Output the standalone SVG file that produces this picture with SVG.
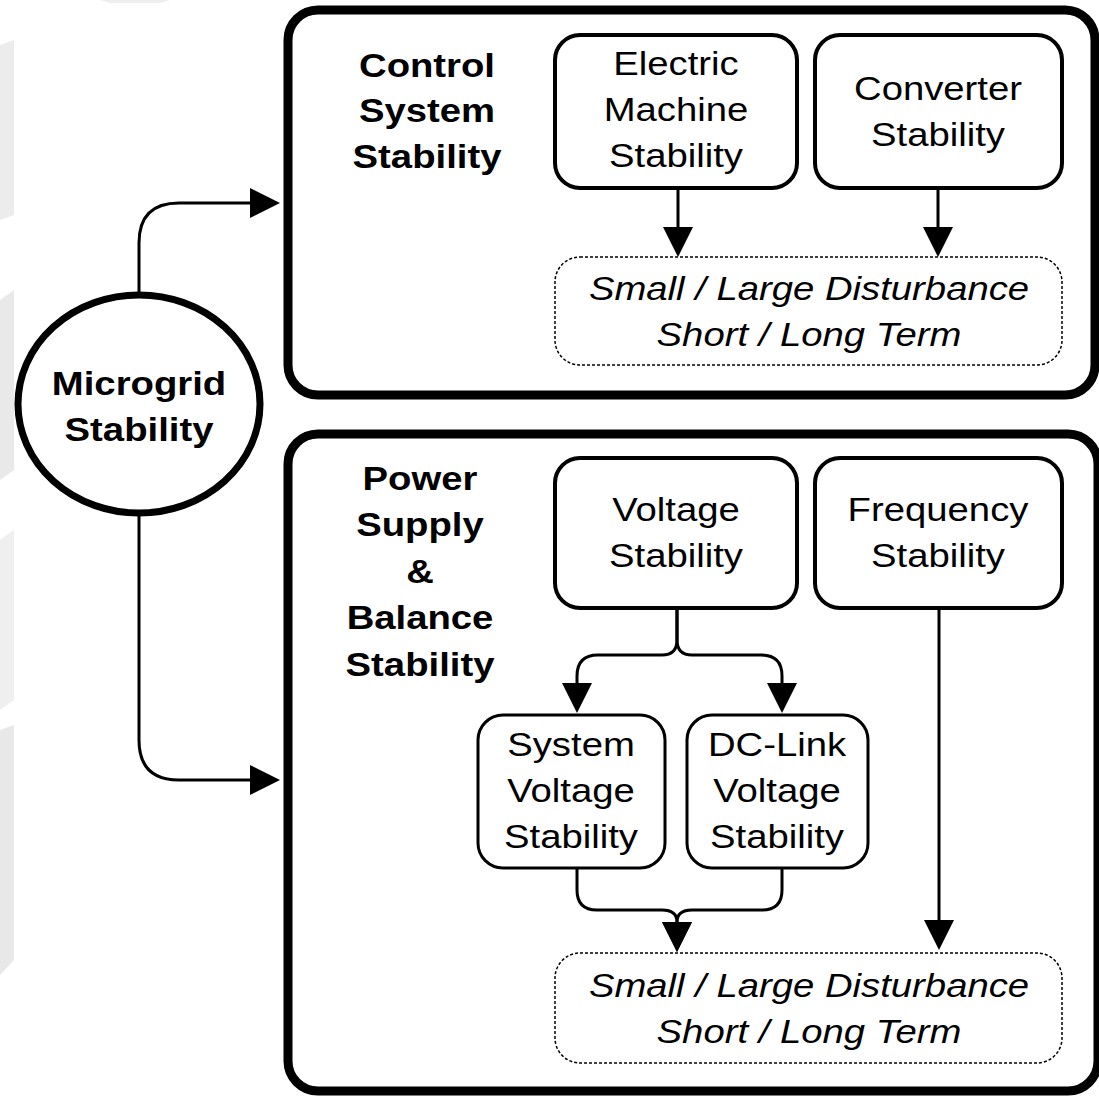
<svg xmlns="http://www.w3.org/2000/svg" width="1099" height="1096" viewBox="0 0 1099 1096">
<style>
.t{font-family:"Liberation Sans",Arial,sans-serif;font-size:33px;fill:#000;text-anchor:middle}
.b{font-weight:bold}
.i{font-style:italic}
.outer{fill:#fff;stroke:#000;stroke-width:9}
.box{fill:#fff;stroke:#000;stroke-width:4}
.sbox{fill:#fff;stroke:#000;stroke-width:3}
.dash{fill:#fff;stroke:#000;stroke-width:1.5;stroke-dasharray:3 2}
.conn path{fill:none;stroke:#000;stroke-width:3;marker-end:url(#ah)}
</style>
<defs>
<marker id="ah" viewBox="0 0 30 30" refX="0" refY="15" markerWidth="30" markerHeight="30" markerUnits="userSpaceOnUse" orient="auto">
<path d="M0,0 L30,15 L0,30 z" fill="#000"/>
</marker>
</defs>
<rect x="0" y="0" width="1099" height="1096" fill="#fff"/>
<g id="bg" fill="#ececec">
<polygon points="0,45 14,40 14,215 0,220"/>
<polygon points="0,300 14,290 14,470 0,480" fill="#e9e9e9"/>
<polygon points="0,540 14,530 14,700 0,710" fill="#efefef"/>
<polygon points="0,730 14,725 14,960 0,975" fill="#e8e8e8"/>
<polygon points="100,0 170,0 160,3 110,3" fill="#eeeeee"/>
</g>
<g id="control-system">
<rect class="outer" x="288" y="10" width="807" height="385" rx="30"/>
<text class="t b" transform="translate(427,0) scale(1.16,1)"><tspan x="0" y="77">Control</tspan><tspan x="0" y="122">System</tspan><tspan x="0" y="168">Stability</tspan></text>
</g>
<g id="power-supply">
<rect class="outer" x="288" y="434" width="810" height="657" rx="30"/>
<text class="t b" transform="translate(420,0) scale(1.16,1)"><tspan x="0" y="490">Power</tspan><tspan x="0" y="536">Supply</tspan><tspan x="0" y="583">&amp;</tspan><tspan x="0" y="629">Balance</tspan><tspan x="0" y="676">Stability</tspan></text>
</g>
<g id="microgrid">
<ellipse cx="139" cy="404" rx="121" ry="109" fill="#fff" stroke="#000" stroke-width="7"/>
<text class="t b" transform="translate(139,0) scale(1.16,1)"><tspan x="0" y="395">Microgrid</tspan><tspan x="0" y="441">Stability</tspan></text>
</g>
<g id="electric-machine">
<rect class="box" x="555" y="35" width="242" height="153" rx="25"/>
<text class="t" transform="translate(676,0) scale(1.16,1)"><tspan x="0" y="75">Electric</tspan><tspan x="0" y="121">Machine</tspan><tspan x="0" y="167">Stability</tspan></text>
</g>
<g id="converter">
<rect class="box" x="815" y="35" width="247" height="153" rx="25"/>
<text class="t" transform="translate(938,0) scale(1.16,1)"><tspan x="0" y="100">Converter</tspan><tspan x="0" y="146">Stability</tspan></text>
</g>
<g id="disturbance-top">
<rect class="dash" x="555" y="257" width="507" height="108" rx="25"/>
<text class="t i" transform="translate(809,0) scale(1.16,1)"><tspan x="0" y="300">Small / Large Disturbance</tspan><tspan x="0" y="346">Short / Long Term</tspan></text>
</g>
<g id="voltage">
<rect class="box" x="555" y="458" width="242" height="150" rx="25"/>
<text class="t" transform="translate(676,0) scale(1.16,1)"><tspan x="0" y="521">Voltage</tspan><tspan x="0" y="567">Stability</tspan></text>
</g>
<g id="frequency">
<rect class="box" x="815" y="458" width="247" height="150" rx="25"/>
<text class="t" transform="translate(938,0) scale(1.16,1)"><tspan x="0" y="521">Frequency</tspan><tspan x="0" y="567">Stability</tspan></text>
</g>
<g id="system-voltage">
<rect class="sbox" x="478" y="715" width="187" height="153" rx="25"/>
<text class="t" transform="translate(571,0) scale(1.16,1)"><tspan x="0" y="756">System</tspan><tspan x="0" y="802">Voltage</tspan><tspan x="0" y="848">Stability</tspan></text>
</g>
<g id="dc-link">
<rect class="sbox" x="687" y="715" width="181" height="153" rx="25"/>
<text class="t" transform="translate(777,0) scale(1.16,1)"><tspan x="0" y="756">DC-Link</tspan><tspan x="0" y="802">Voltage</tspan><tspan x="0" y="848">Stability</tspan></text>
</g>
<g id="disturbance-bottom">
<rect class="dash" x="555" y="953" width="507" height="110" rx="25"/>
<text class="t i" transform="translate(809,0) scale(1.16,1)"><tspan x="0" y="997">Small / Large Disturbance</tspan><tspan x="0" y="1043">Short / Long Term</tspan></text>
</g>
<g id="connectors" class="conn">
<path d="M139,296 V243 Q139,203 179,203 H250"/>
<path d="M139,513 V740 Q139,780 179,780 H250"/>
<path d="M678,188 V227"/>
<path d="M938,188 V227"/>
<path d="M677,608 V640 Q677,655 662,655 H598 Q577,655 577,676 V683"/>
<path d="M677,608 V640 Q677,655 692,655 H761 Q782,655 782,676 V683"/>
<path d="M939,608 V920"/>
<path d="M577,868 V890 Q577,910 597,910 H662 Q677,910 677,922"/>
<path d="M782,868 V890 Q782,910 762,910 H692 Q677,910 677,922"/>
</g>
</svg>
